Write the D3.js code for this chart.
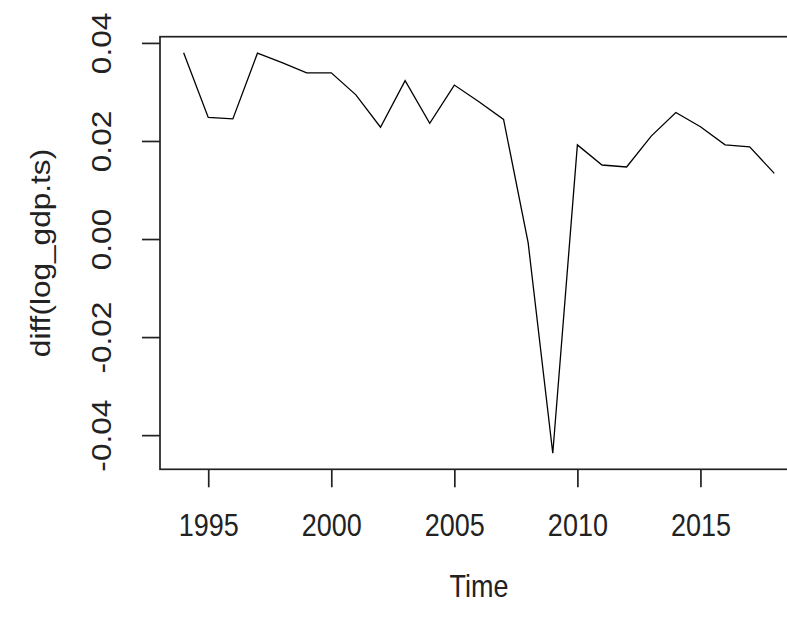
<!DOCTYPE html>
<html>
<head>
<meta charset="utf-8">
<script src="https://cdn.jsdelivr.net/npm/d3@7"></script>
<style>
  html, body { margin: 0; padding: 0; background: #fff; }
  svg { display: block; }
  text { font-family: "Liberation Sans", Arial, sans-serif; fill: #222; }
</style>
</head>
<body>
<script>
// Annual differences of log GDP, 1994-2018
const years = [1994, 1995, 1996, 1997, 1998, 1999, 2000, 2001, 2002, 2003, 2004, 2005,
               2006, 2007, 2008, 2009, 2010, 2011, 2012, 2013, 2014, 2015, 2016, 2017, 2018];
const diffLogGdp = [0.0380, 0.0248, 0.0245, 0.0379, 0.0360, 0.0339, 0.0339, 0.0294, 0.0228, 0.0323, 0.0236, 0.0314,
                    0.0280, 0.0244, -0.0008, -0.0437, 0.0192, 0.0151, 0.0147, 0.0210, 0.0258, 0.0229, 0.0192, 0.0188, 0.0134];
const xTicks = [1995, 2000, 2005, 2010, 2015];
const yTicks = [-0.04, -0.02, 0.00, 0.02, 0.04];
const xTitle = "Time";
const yTitle = "diff(log_gdp.ts)";

const W = 787, H = 621;
const plot = { left: 160, top: 36.7, right: 797.9, bottom: 469.3 };
const fontSize = 27;
const stretch = 1.17;   // glyphs are a little taller than wide

const svg = d3.select("body").append("svg").attr("width", W).attr("height", H);

// R-style 4% padding around the data range
function padded(ext) {
  const p = (ext[1] - ext[0]) * 0.04;
  return [ext[0] - p, ext[1] + p];
}

const x = d3.scaleLinear().domain(padded(d3.extent(years))).range([plot.left, plot.right]);
const y = d3.scaleLinear().domain(padded(d3.extent(diffLogGdp))).range([plot.bottom, plot.top]);

// series line
const series = years.map((yr, i) => ({ yr, v: diffLogGdp[i] }));
svg.append("path")
  .datum(series)
  .attr("fill", "none")
  .attr("stroke", "#000")
  .attr("stroke-width", 1.3)
  .attr("d", d3.line().x(d => x(d.yr)).y(d => y(d.v)));

// plot box
svg.append("rect")
  .attr("x", plot.left).attr("y", plot.top)
  .attr("width", plot.right - plot.left).attr("height", plot.bottom - plot.top)
  .attr("fill", "none").attr("stroke", "#222").attr("stroke-width", 1.7);

// bottom axis
const gx = svg.append("g")
  .attr("transform", `translate(0,${plot.bottom})`)
  .call(d3.axisBottom(x).tickValues(xTicks).tickFormat(d3.format("d")).tickSize(18).tickSizeOuter(0));
gx.select(".domain").remove();
gx.selectAll(".tick line").attr("stroke", "#222").attr("stroke-width", 1.7);
gx.selectAll(".tick text")
  .attr("font-size", fontSize).attr("font-family", null).attr("fill", "#222")
  .attr("y", null).attr("dy", null)
  .attr("transform", `translate(0,${536 - plot.bottom}) scale(1,${stretch})`);

// left axis with rotated labels; plain hyphen for negatives
const fmtY = v => d3.format(".2f")(v).replace("\u2212", "-");
const gy = svg.append("g")
  .attr("transform", `translate(${plot.left},0)`)
  .call(d3.axisLeft(y).tickValues(yTicks).tickFormat(fmtY).tickSize(18).tickSizeOuter(0));
gy.select(".domain").remove();
gy.selectAll(".tick line").attr("stroke", "#222").attr("stroke-width", 1.7);
gy.selectAll(".tick text")
  .attr("font-size", fontSize).attr("font-family", null).attr("fill", "#222")
  .attr("x", null).attr("dy", null)
  .attr("text-anchor", "middle")
  .attr("transform", `translate(-49,0) scale(1,${stretch}) rotate(-90)`);

// axis titles
svg.append("text")
  .attr("text-anchor", "middle").attr("font-size", fontSize)
  .attr("transform", `translate(${(plot.left + plot.right) / 2},597) scale(1,${stretch})`)
  .text(xTitle);

svg.append("text")
  .attr("transform", `translate(50,${(plot.top + plot.bottom) / 2}) scale(1,${stretch}) rotate(-90)`)
  .attr("text-anchor", "middle").attr("font-size", fontSize)
  .text(yTitle);
</script>
</body>
</html>
